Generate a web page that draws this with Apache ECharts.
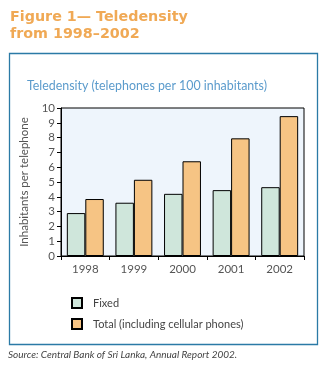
<!DOCTYPE html>
<html>
<head>
<meta charset="utf-8">
<script src="https://cdn.jsdelivr.net/npm/echarts@6/dist/echarts.min.js"></script>
<style>
html,body{margin:0;padding:0;background:#fff;}
#c{width:330px;height:372px;}
</style>
</head>
<body>
<div id="c"></div>
<script>
var categories = ['1998', '1999', '2000', '2001', '2002'];
var fixedValues = [2.9, 3.6, 4.2, 4.45, 4.65];
var totalValues = [3.85, 5.15, 6.4, 7.95, 9.45];
var seriesNames = ['Fixed', 'Total (including cellular phones)'];
var yTicks = { min: 0, max: 10, interval: 1 };

var chart = echarts.init(document.getElementById('c'), null, { renderer: 'canvas' });
var font = 'Lato, "DejaVu Sans", sans-serif';
chart.setOption({
  animation: false,
  backgroundColor: '#fff',
  title: [
    {
      text: 'Figure 1\u2014 Teledensity\nfrom 1998\u20132002',
      left: 5, top: 4,
      textStyle: { color: '#f0a955', fontSize: 14.3, fontWeight: 'bold', fontFamily: '"DejaVu Sans", sans-serif', lineHeight: 17 }
    },
    {
      text: 'Teledensity (telephones per 100 inhabitants)',
      left: 22, top: 75,
      textStyle: { color: '#5b9bcc', fontSize: 12.4, fontWeight: 'normal', fontFamily: font }
    },
    {
      text: 'Source: Central Bank of Sri Lanka, Annual Report 2002.',
      left: 3, top: 345,
      textStyle: { color: '#444', fontSize: 10, fontStyle: 'italic', fontWeight: 'normal', fontFamily: font }
    }
  ],
  graphic: [
    {
      type: 'rect', silent: true, z: -1,
      shape: { x: 9.5, y: 53.5, width: 308, height: 291 },
      style: { fill: 'none', stroke: '#2b7aa6', lineWidth: 1.3 }
    }
  ],
  legend: {
    orient: 'vertical',
    left: 66, top: 292,
    itemWidth: 10, itemHeight: 10, itemGap: 9,
    icon: 'rect',
    data: seriesNames,
    textStyle: { color: '#444', fontSize: 11, fontFamily: font, padding: [0, 0, 0, 6] }
  },
  grid: {
    left: 61, right: 26, top: 108, bottom: 116,
    show: true, backgroundColor: '#eef5fc', borderColor: '#000', borderWidth: 1
  },
  xAxis: {
    type: 'category',
    data: categories,
    axisLine: { lineStyle: { color: '#000', width: 1 } },
    axisTick: { show: true, alignWithLabel: false, length: 4, lineStyle: { color: '#000' } },
    axisLabel: { color: '#555', fontSize: 11.5, fontFamily: font, margin: 7 }
  },
  yAxis: {
    type: 'value',
    min: yTicks.min, max: yTicks.max, interval: yTicks.interval,
    name: 'Inhabitants per telephone',
    nameLocation: 'middle',
    nameGap: 23,
    nameTextStyle: { color: '#555', fontSize: 11.5, fontFamily: font },
    axisLine: { show: true, lineStyle: { color: '#000', width: 1 } },
    axisTick: { show: true, length: 4, lineStyle: { color: '#000' } },
    axisLabel: { color: '#555', fontSize: 11.5, fontFamily: font, margin: 6 },
    splitLine: { show: false }
  },
  series: [
    {
      name: seriesNames[0], type: 'bar', data: fixedValues,
      barGap: '0%', barCategoryGap: '24%',
      itemStyle: { color: '#cfe6db', borderColor: '#000', borderWidth: 1 }
    },
    {
      name: seriesNames[1], type: 'bar', data: totalValues,
      barGap: '0%', barCategoryGap: '24%',
      itemStyle: { color: '#f6c484', borderColor: '#000', borderWidth: 1 }
    }
  ]
});
</script>
</body>
</html>
